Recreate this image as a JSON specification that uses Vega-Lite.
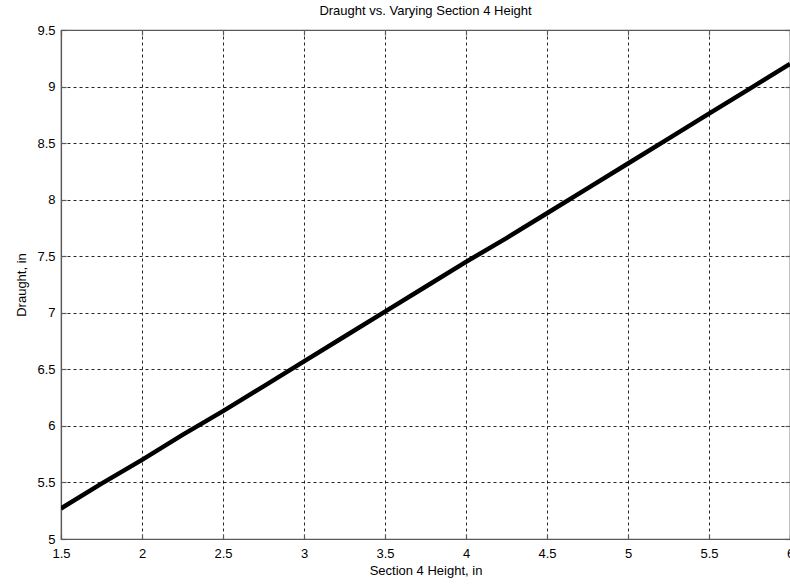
{
  "$schema": "https://vega.github.io/schema/vega-lite/v6.json",
  "width": 729,
  "height": 509,
  "autosize": {"type": "none"},
  "padding": {"left": 61, "top": 30, "right": 0, "bottom": 45},
  "background": "white",
  "title": {
    "text": "Draught vs. Varying Section 4 Height",
    "font": "Liberation Sans",
    "fontSize": 13,
    "fontWeight": "normal",
    "color": "#000000",
    "anchor": "middle",
    "offset": 6
  },
  "config": {
    "view": {"stroke": "#5a5a5a", "strokeWidth": 1.2},
    "axis": {
      "labelFont": "Liberation Sans",
      "labelFontSize": 13,
      "labelColor": "#000000",
      "titleFont": "Liberation Sans",
      "titleFontSize": 13,
      "titleFontWeight": "normal",
      "titleColor": "#000000",
      "domainColor": "#5a5a5a",
      "domainWidth": 1.2,
      "tickColor": "#5a5a5a",
      "tickWidth": 1.2,
      "tickSize": -5,
      "gridColor": "#000000",
      "gridOpacity": 0.85,
      "gridDash": [3, 3],
      "gridWidth": 1
    }
  },
  "data": {
    "values": [
      {"h": 1.5, "d": 5.27},
      {"h": 1.75, "d": 5.49},
      {"h": 2.0, "d": 5.70},
      {"h": 2.25, "d": 5.92},
      {"h": 2.5, "d": 6.13},
      {"h": 2.75, "d": 6.35},
      {"h": 3.0, "d": 6.57},
      {"h": 3.25, "d": 6.79},
      {"h": 3.5, "d": 7.01},
      {"h": 3.75, "d": 7.23},
      {"h": 4.0, "d": 7.45},
      {"h": 4.25, "d": 7.66},
      {"h": 4.5, "d": 7.88},
      {"h": 4.75, "d": 8.10},
      {"h": 5.0, "d": 8.32},
      {"h": 5.25, "d": 8.54},
      {"h": 5.5, "d": 8.76},
      {"h": 5.75, "d": 8.98},
      {"h": 6.0, "d": 9.20}
    ]
  },
  "layer": [
    {
      "mark": {"type": "line", "color": "#000000", "strokeWidth": 4.5, "clip": true},
      "encoding": {
        "x": {
          "field": "h",
          "type": "quantitative",
          "scale": {"domain": [1.5, 6], "nice": false, "zero": false},
          "axis": {
            "title": "Section 4 Height, in",
            "values": [1.5, 2, 2.5, 3, 3.5, 4, 4.5, 5, 5.5, 6],
            "format": "~g",
            "labelPadding": 13,
            "titlePadding": 4,
            "labelFlush": false,
            "labelOverlap": false
          }
        },
        "y": {
          "field": "d",
          "type": "quantitative",
          "scale": {"domain": [5, 9.5], "nice": false, "zero": false},
          "axis": {
            "title": "Draught, in",
            "values": [5, 5.5, 6, 6.5, 7, 7.5, 8, 8.5, 9, 9.5],
            "format": "~g",
            "labelPadding": 11,
            "titlePadding": 8,
            "labelFlush": false,
            "labelOverlap": false
          }
        }
      }
    },
    {
      "mark": {"type": "line", "opacity": 0},
      "encoding": {
        "x": {
          "field": "h",
          "type": "quantitative",
          "scale": {"domain": [1.5, 6], "nice": false, "zero": false},
          "axis": {
            "orient": "top",
            "title": null,
            "labels": false,
            "grid": false,
            "values": [1.5, 2, 2.5, 3, 3.5, 4, 4.5, 5, 5.5, 6]
          }
        },
        "y": {
          "field": "d",
          "type": "quantitative",
          "scale": {"domain": [5, 9.5], "nice": false, "zero": false},
          "axis": {
            "orient": "right",
            "title": null,
            "labels": false,
            "grid": false,
            "values": [5, 5.5, 6, 6.5, 7, 7.5, 8, 8.5, 9, 9.5]
          }
        }
      }
    }
  ],
  "resolve": {"axis": {"x": "independent", "y": "independent"}}
}
